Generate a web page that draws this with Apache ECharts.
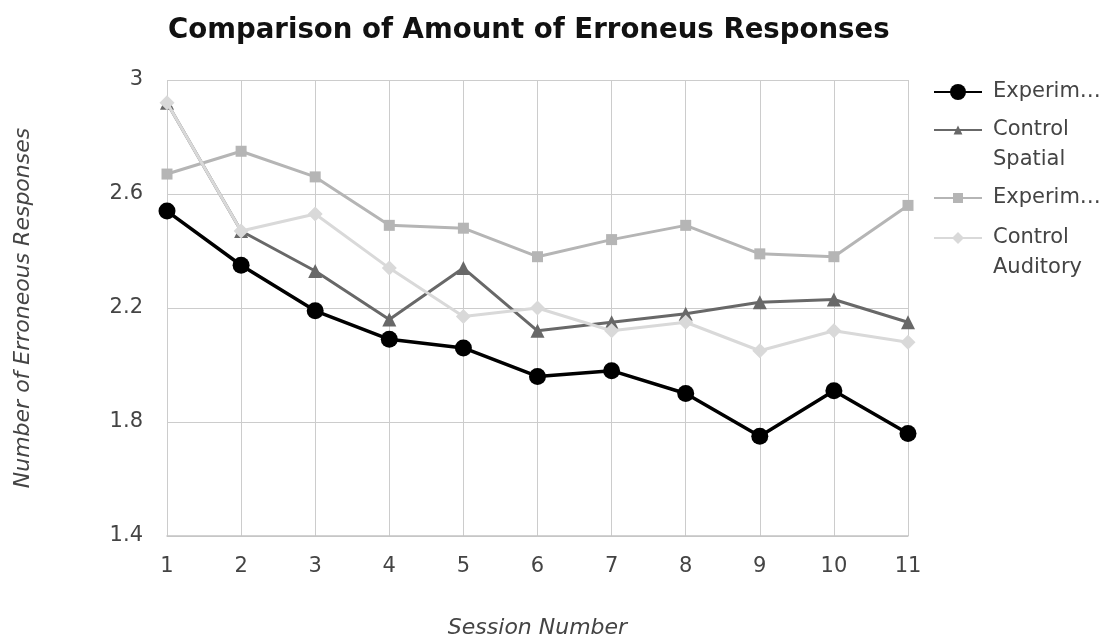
<!DOCTYPE html>
<html>
<head>
<meta charset="utf-8">
<style>
  html, body { margin: 0; padding: 0; background: #ffffff; }
  #chart { width: 1110px; height: 638px; }
</style>
<script src="https://cdn.jsdelivr.net/npm/echarts@6/dist/echarts.min.js"></script>
</head>
<body>
<div id="chart"></div>
<script>
const sessions = ['1', '2', '3', '4', '5', '6', '7', '8', '9', '10', '11'];
const seriesNames = ['Experimental Spatial', 'Control Spatial', 'Experimental Auditory', 'Control Auditory'];
const legendLabels = ['Experim\u2026', 'Control\nSpatial', 'Experim\u2026', 'Control\nAuditory'];
const expSpatial   = [2.54, 2.35, 2.19, 2.09, 2.06, 1.96, 1.98, 1.90, 1.75, 1.91, 1.76];
const ctrlSpatial  = [2.92, 2.47, 2.33, 2.16, 2.34, 2.12, 2.15, 2.18, 2.22, 2.23, 2.15];
const expAuditory  = [2.67, 2.75, 2.66, 2.49, 2.48, 2.38, 2.44, 2.49, 2.39, 2.38, 2.56];
const ctrlAuditory = [2.92, 2.47, 2.53, 2.34, 2.17, 2.20, 2.12, 2.15, 2.05, 2.12, 2.08];
const yTicks = { min: 1.4, max: 3, interval: 0.4 };

const FONT = 'DejaVu Sans';
const labelColor = '#444444';
const colors = ['#000000', '#686868', '#b5b5b5', '#d9d9d9'];
const symbols = ['circle', 'triangle', 'rect', 'diamond'];
const symbolSizes = [17, 14, 11, 15];
const legendIconH = [20, 11, 12.5, 15];
const legendCenters = [92, 130, 198, 238];
const seriesData = [expSpatial, ctrlSpatial, expAuditory, ctrlAuditory];

const chart = echarts.init(document.getElementById('chart'), null, { renderer: 'canvas' });

const legends = seriesNames.map((name, i) => {
  const twoLine = legendLabels[i].indexOf('\n') >= 0;
  // a blank first line keeps the icon level with the first visible line
  const label = twoLine ? '\u00a0\n' + legendLabels[i] : legendLabels[i];
  return {
    show: true,
    orient: 'vertical',
    left: 933,
    top: twoLine ? legendCenters[i] - 45 : legendCenters[i] - 15,
    padding: 0,
    itemWidth: 48,
    itemHeight: legendIconH[i],
    data: [name],
    formatter: () => label,
    selectedMode: true,
    textStyle: {
      fontFamily: FONT,
      fontSize: 21,
      color: labelColor,
      lineHeight: 30,
      padding: [0, 0, 0, 6]
    }
  };
});

const option = {
  backgroundColor: '#ffffff',
  animation: false,
  title: {
    text: 'Comparison of Amount of Erroneus Responses',
    left: 163,
    top: 12,
    textStyle: { fontFamily: FONT, fontWeight: 'bold', fontSize: 27.6, color: '#111111' }
  },
  legend: legends,
  grid: { left: 167, right: 202, top: 80, bottom: 102, containLabel: false, outerBoundsMode: 'none' },
  xAxis: {
    type: 'category',
    data: sessions,
    boundaryGap: false,
    name: 'Session Number',
    nameLocation: 'middle',
    nameGap: 81,
    nameTextStyle: { fontFamily: FONT, fontStyle: 'italic', fontSize: 22, color: labelColor },
    axisLine: { show: true, lineStyle: { color: '#c4c4c4', width: 1.5 } },
    axisTick: { show: false },
    axisLabel: { fontFamily: FONT, fontSize: 21, color: labelColor, margin: 20 },
    splitLine: { show: true, lineStyle: { color: '#cccccc', width: 1 } }
  },
  yAxis: {
    type: 'value',
    min: yTicks.min,
    max: yTicks.max,
    interval: yTicks.interval,
    name: 'Number of Erroneous Responses',
    nameLocation: 'middle',
    nameGap: 133,
    nameTextStyle: { fontFamily: FONT, fontStyle: 'italic', fontSize: 22, color: labelColor },
    axisLine: { show: false },
    axisTick: { show: false },
    axisLabel: {
      fontFamily: FONT, fontSize: 21, color: labelColor, margin: 24,
      formatter: v => String(Math.round(v * 10) / 10)
    },
    splitLine: { show: true, lineStyle: { color: '#cccccc', width: 1 } }
  },
  series: seriesNames.map((name, i) => ({
    name: name,
    type: 'line',
    data: seriesData[i],
    symbol: symbols[i],
    symbolSize: symbolSizes[i],
    showAllSymbol: true,
    lineStyle: { color: colors[i], width: i === 0 ? 3.5 : 3 },
    itemStyle: { color: colors[i] },
    emphasis: { disabled: true },
    z: 2 + i
  }))
};

chart.setOption(option);
</script>
</body>
</html>
